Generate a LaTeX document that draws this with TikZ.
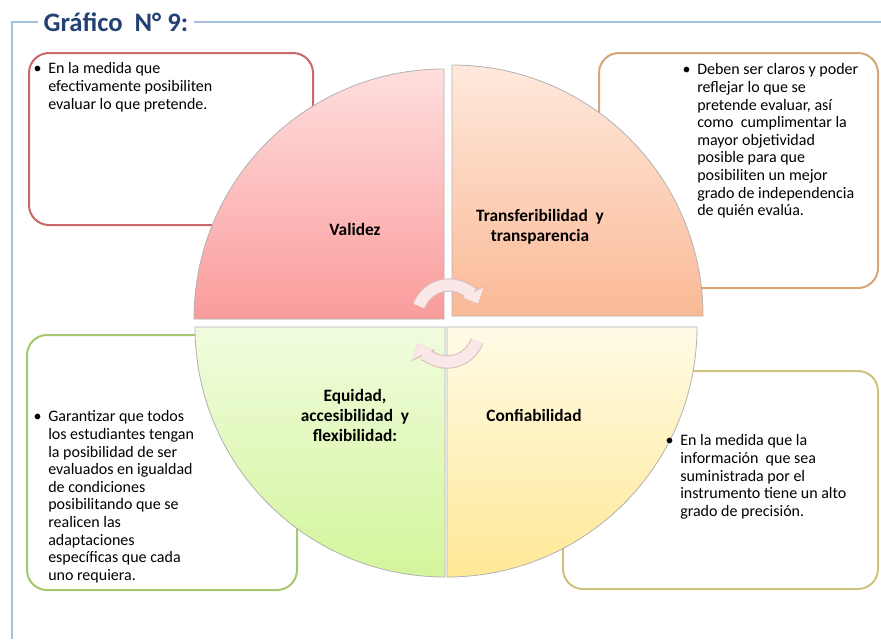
\documentclass[tikz,border=0pt]{standalone}
\usepackage{fontspec}
\setmainfont{Carlito}
\usetikzlibrary{arrows.meta}
\definecolor{marco}{RGB}{165,190,225}
\definecolor{azul}{RGB}{35,65,115}
\definecolor{rojo}{RGB}{200,105,105}
\definecolor{naranja}{RGB}{215,165,120}
\definecolor{verde}{RGB}{165,200,110}
\definecolor{oliva}{RGB}{205,195,125}
\definecolor{rojoA}{RGB}{255,222,222}
\definecolor{rojoB}{RGB}{250,155,155}
\definecolor{narA}{RGB}{255,233,220}
\definecolor{narB}{RGB}{250,185,150}
\definecolor{verA}{RGB}{240,252,222}
\definecolor{verB}{RGB}{212,245,155}
\definecolor{amaA}{RGB}{255,251,230}
\definecolor{amaB}{RGB}{255,232,150}
\definecolor{giro}{RGB}{250,232,232}
\definecolor{giroborde}{RGB}{215,190,190}
\begin{document}
\begin{tikzpicture}[x=0.75pt,y=-0.75pt,
    caja/.style={line width=1.5pt,rounded corners=15pt,fill=white},
    cuarto/.style={draw=black!30,line width=0.6pt},
    txt/.style={anchor=north west,inner sep=0pt,align=left,font=\fontsize{12}{13.2}\selectfont},
    lbl/.style={align=center,inner sep=0pt,font=\bfseries\fontsize{13}{15}\selectfont},
    vuelta/.style={line width=8.5pt,draw=giro,-{Triangle[length=9pt,width=17pt,line width=0.4pt]},
      preaction={draw=giroborde,line width=10pt,-{Triangle[length=10pt,width=19pt,line width=0.4pt]}}}]
  \useasboundingbox (0,0) rectangle (881,639);
  % marco y titulo
  \node[anchor=west,inner sep=4pt,text=azul,font=\bfseries\fontsize{20}{22}\selectfont] (titulo) at (38,22) {Gráfico~~N° 9:};
  \draw[marco,line width=1.2pt] (titulo.west) -- (12,22) -- (12,639);
  \draw[marco,line width=1.2pt] (titulo.east) -- (881,22);
  % cajas de texto
  \draw[caja,draw=rojo] (29,53) rectangle (313,225);
  \draw[caja,draw=naranja] (599,53) rectangle (878,288);
  \draw[caja,draw=verde] (27,335) rectangle (297,590);
  \draw[caja,draw=oliva] (563,371) rectangle (878,589);
  % circulo
  \draw[cuarto,top color=rojoA,bottom color=rojoB] (444,319) -- (194,319) arc[start angle=180,end angle=270,radius=250] -- cycle;
  \draw[cuarto,top color=narA,bottom color=narB] (452,316) -- (452,65) arc[start angle=270,end angle=360,radius=251] -- cycle;
  \draw[cuarto,top color=verA,bottom color=verB] (445,327) -- (445,577) arc[start angle=90,end angle=180,radius=250] -- cycle;
  \draw[cuarto,top color=amaA,bottom color=amaB] (447,327) -- (697,327) arc[start angle=0,end angle=90,radius=250] -- cycle;
  % flechas
  \coordinate (g1) at (449,317);
  \coordinate (g2) at (447,330);
  \draw[vuelta] (g1) ++(200:32) arc[start angle=200,end angle=335,radius=32];
  \draw[vuelta] (g2) ++(20:32) arc[start angle=20,end angle=155,radius=32];
  % etiquetas
  \node[lbl] (validez) at (355,229) {Validez};
  \node[lbl] (transf) at (540,227) {Transferibilidad~~y\\transparencia};
  \node[lbl] (equidad) at (355,415) {Equidad,\\accesibilidad~~y\\flexibilidad:};
  \node[lbl] (confia) at (534,415) {Confiabilidad};
  % textos
  \node[txt] (t1) at (48,62.5) {\llap{\textbullet\hspace{5pt}}En la medida que\\efectivamente posibiliten\\evaluar lo que pretende.};
  \node[txt] (t2) at (697,63.5) {\llap{\textbullet\hspace{5pt}}Deben ser claros y poder\\reflejar lo que se\\pretende evaluar, así\\como~ cumplimentar la\\mayor objetividad\\posible para que\\posibiliten un mejor\\grado de independencia\\de quién evalúa.};
  \node[txt] (t3) at (48,410.5) {\llap{\textbullet\hspace{5pt}}Garantizar que todos\\los estudiantes tengan\\la posibilidad de ser\\evaluados en igualdad\\de condiciones\\posibilitando que se\\realicen las\\adaptaciones\\específicas que cada\\uno requiera.};
  \node[txt] (t4) at (680,434.5) {\llap{\textbullet\hspace{5pt}}En la medida que la\\información~ que sea\\suministrada por el\\instrumento tiene un alto\\grado de precisión.};
\end{tikzpicture}
\end{document}
